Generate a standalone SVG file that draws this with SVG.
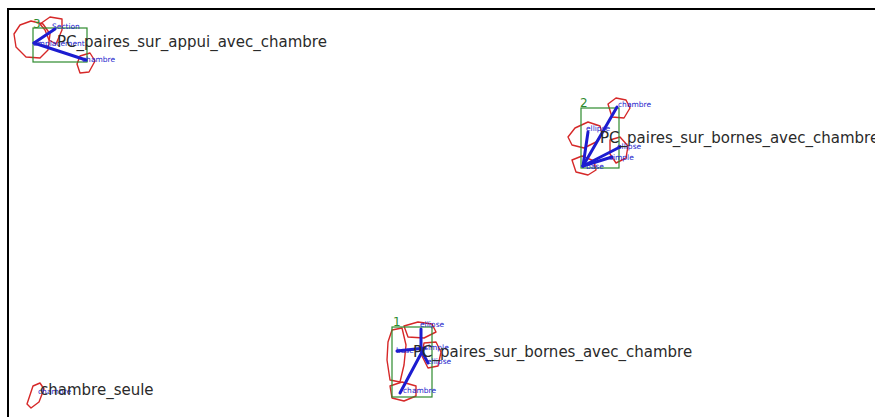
<svg xmlns="http://www.w3.org/2000/svg" width="875" height="417" viewBox="0 0 875 417">
<style>
.frame{stroke:#000;stroke-width:2;fill:none}
.box{fill:none;stroke:#2e8b2e;stroke-width:1.2}
.blob{fill:none;stroke:#d62828;stroke-width:1.4;stroke-linejoin:round}
.edge{stroke:#1c1cd0;stroke-width:3;stroke-linecap:round}
.num{font-family:"DejaVu Sans",sans-serif;font-size:12px;fill:#2e8b2e}
.lbl{font-family:"DejaVu Sans",sans-serif;font-size:7.5px;fill:#2222cc}
.name{font-family:"DejaVu Sans",sans-serif;font-size:15px;fill:#2a2a2a}
</style>
<rect width="875" height="417" fill="#fff"/>
<path class="frame" d="M8,420 V9 H875"/>
<g id="node3">
  <path class="blob" d="M20,25 L31,21 L43,24 L50,34 L48,50 L40,58 L26,57 L16,47 L14,34 Z"/>
  <path class="blob" d="M40,24 L50,17 L62,19 L62,30 L56,44 L49,40 L45,30 Z"/>
  <path class="blob" d="M80,56 L90,53 L95,61 L89,72 L80,73 L77,64 Z"/>
  <rect class="box" x="33" y="28" width="54" height="34"/>
  <text class="num" x="33" y="28">3</text>
  <line class="edge" x1="34" y1="43" x2="55" y2="29"/>
  <line class="edge" x1="34" y1="43" x2="86" y2="60"/>
  <text class="lbl" x="52" y="29">Section</text>
  <text class="lbl" x="33" y="46">emplacement</text>
  <text class="lbl" x="82" y="62">chambre</text>
  <text class="name" x="57" y="47">PC_paires_sur_appui_avec_chambre</text>
</g>
<g id="node2">
  <path class="blob" d="M608,104 L616,98 L626,100 L630,108 L624,118 L612,117 Z"/>
  <path class="blob" d="M575,128 L588,122 L600,126 L602,134 L596,142 L584,148 L572,145 L568,137 Z"/>
  <path class="blob" d="M572,160 L582,156 L594,161 L596,170 L588,175 L576,172 Z"/>
  <path class="blob" d="M610,140 L620,137 L628,146 L626,158 L616,163 L610,154 Z"/>
  <rect class="box" x="581" y="108" width="38" height="60"/>
  <text class="num" x="580" y="107">2</text>
  <line class="edge" x1="583" y1="166" x2="617" y2="107"/>
  <line class="edge" x1="583" y1="166" x2="588" y2="132"/>
  <line class="edge" x1="583" y1="166" x2="620" y2="147"/>
  <line class="edge" x1="583" y1="166" x2="612" y2="157"/>
  <text class="lbl" x="618" y="107">chambre</text>
  <text class="lbl" x="586" y="131">ellipse</text>
  <text class="lbl" x="617" y="149">ellipse</text>
  <text class="lbl" x="609" y="160">simple</text>
  <text class="lbl" x="586" y="169">base</text>
  <text class="name" x="600" y="143">PC_paires_sur_bornes_avec_chambre</text>
</g>
<g id="node1">
  <path class="blob" d="M392,330 L402,328 L406,345 L404,365 L400,382 L390,380 L387,360 L388,342 Z"/>
  <path class="blob" d="M404,326 L418,322 L432,324 L436,332 L424,338 L408,337 Z"/>
  <path class="blob" d="M424,343 L436,342 L441,352 L438,366 L428,368 L422,356 Z"/>
  <path class="blob" d="M390,386 L402,382 L416,386 L416,396 L404,401 L392,398 Z"/>
  <rect class="box" x="392" y="327" width="40" height="70"/>
  <text class="num" x="393" y="326">1</text>
  <line class="edge" x1="397" y1="351" x2="425" y2="348"/>
  <line class="edge" x1="421" y1="329" x2="421" y2="350"/>
  <line class="edge" x1="400" y1="393" x2="423" y2="350"/>
  <line class="edge" x1="421" y1="350" x2="428" y2="363"/>
  <text class="lbl" x="420" y="327">ellipse</text>
  <text class="lbl" x="424" y="350">simple</text>
  <text class="lbl" x="427" y="364">ellipse</text>
  <text class="lbl" x="396" y="353">base</text>
  <text class="lbl" x="403" y="393">chambre</text>
  <text class="name" x="413" y="357">PC_paires_sur_bornes_avec_chambre</text>
</g>
<g id="node4">
  <path class="blob" d="M33,386 L40,383 L44,389 L39,402 L31,408 L27,404 Z"/>
  <text class="lbl" x="38" y="394">chambre</text>
  <text class="name" x="40" y="395">chambre_seule</text>
</g>
</svg>
